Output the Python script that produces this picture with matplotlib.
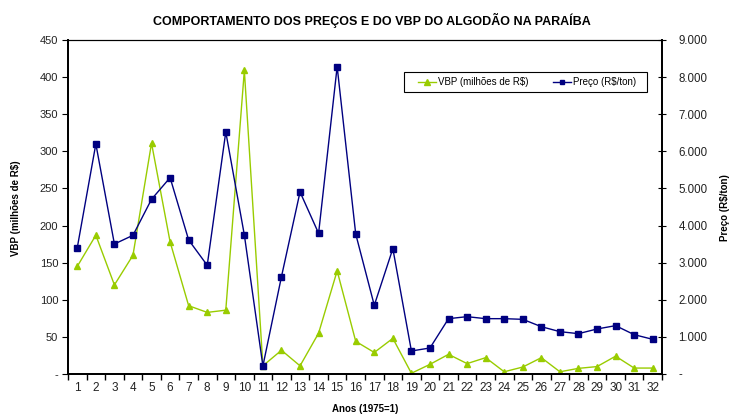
import matplotlib
matplotlib.use("Agg")
import matplotlib.pyplot as plt
from matplotlib.ticker import FuncFormatter
from matplotlib.patches import Rectangle

plt.rcParams['font.family'] = ['Liberation Sans', 'DejaVu Sans']

anos = list(range(1, 33))
vbp = [145, 187, 120, 160, 311, 178, 92, 83, 86, 409,
       11, 32, 11, 55, 139, 44, 29, 48, 1, 13,
       26.5, 14, 22, 3, 9.4, 22, 3, 7.6, 10, 24, 8, 8]
preco = [3405, 6199, 3503, 3737, 4708, 5291, 3611, 2929, 6522, 3746,
         216, 2623, 4905, 3791, 8282, 3773, 1851, 3378, 620, 701,
         1491, 1545, 1491, 1491, 1473, 1275, 1141, 1087, 1213, 1303, 1060, 934]
left_ticks = [0, 50, 100, 150, 200, 250, 300, 350, 400, 450]
right_ticks = [0, 1000, 2000, 3000, 4000, 5000, 6000, 7000, 8000, 9000]

green = '#99CC00'
blue = '#000080'

W, H = 730, 417
fig = plt.figure(figsize=(W/100, H/100), dpi=100)
ax = fig.add_axes([68/W, 1-374/H, (662-68)/W, (374-40)/H])
ax2 = ax.twinx()

l1, = ax.plot(anos, vbp, color=green, lw=1.0, marker='^', ms=4.8, mec=green, mfc=green,
              label='VBP (milhões de R$)')
l2, = ax2.plot(anos, preco, color=blue, lw=1.0, marker='s', ms=4.4, mec=blue, mfc=blue,
               label='Preço (R$/ton)')

ax.set_xlim(0.5, 32.5)
ax.set_ylim(0, 450)
ax2.set_ylim(0, 9000)
ax.set_yticks(left_ticks)
ax2.set_yticks(right_ticks)

def lfmt(v, p):
    return '-' if v == 0 else f'{int(v)}'
def rfmt(v, p):
    return '-' if v == 0 else f'{int(v):,}'.replace(',', '.')
ax.yaxis.set_major_formatter(FuncFormatter(lfmt))
ax2.yaxis.set_major_formatter(FuncFormatter(rfmt))

ax.set_xticks(anos)
ax.set_xticklabels([str(a) for a in anos], fontsize=8.5, color='#222222')
ax.set_xticks([a + 0.5 for a in range(0, 33)], minor=True)
ax.tick_params(axis='x', which='major', length=0, pad=6)
ax.tick_params(axis='x', which='minor', length=4, direction='out', width=1)
ax.tick_params(axis='y', length=4, direction='out', labelsize=8, labelcolor='#222222', pad=3)
ax2.tick_params(axis='y', length=6, direction='inout', labelsize=8.3, labelcolor='#222222', pad=9)

for a in (ax, ax2):
    for s in a.spines.values():
        s.set_color('black')
    a.spines['left'].set_linewidth(1.3)
    a.spines['bottom'].set_linewidth(1.3)
    a.spines['right'].set_linewidth(1.3)
    a.spines['top'].set_linewidth(0.8)

fig.text(372/W, 1-20/H, 'COMPORTAMENTO DOS PREÇOS E DO VBP DO ALGODÃO NA PARAÍBA',
         ha='center', va='center', fontsize=9, fontweight='bold')
fig.text(365/W, 1-409/H, 'Anos (1975=1)', ha='center', va='center', fontsize=7, fontweight='bold')
fig.text(16/W, 1-208/H, 'VBP (milhões de R$)', rotation=90, ha='center', va='center',
         fontsize=7, fontweight='bold')
fig.text(725/W, 1-208/H, 'Preço (R$/ton)', rotation=90, ha='center', va='center',
         fontsize=7, fontweight='bold')

leg = fig.legend(handles=[l1, l2], ncol=2, loc='center',
                 bbox_to_anchor=(527/W, 1-82/H), fontsize=7, frameon=False,
                 borderpad=0, handlelength=1.8, columnspacing=2.6,
                 handletextpad=0.2, markerscale=0.8)
fig.add_artist(Rectangle((404/W, 1-92/H), (647-404)/W, 20/H, transform=fig.transFigure,
                         fill=False, edgecolor='black', lw=0.8, zorder=5))

fig.savefig('out.png', dpi=100)
